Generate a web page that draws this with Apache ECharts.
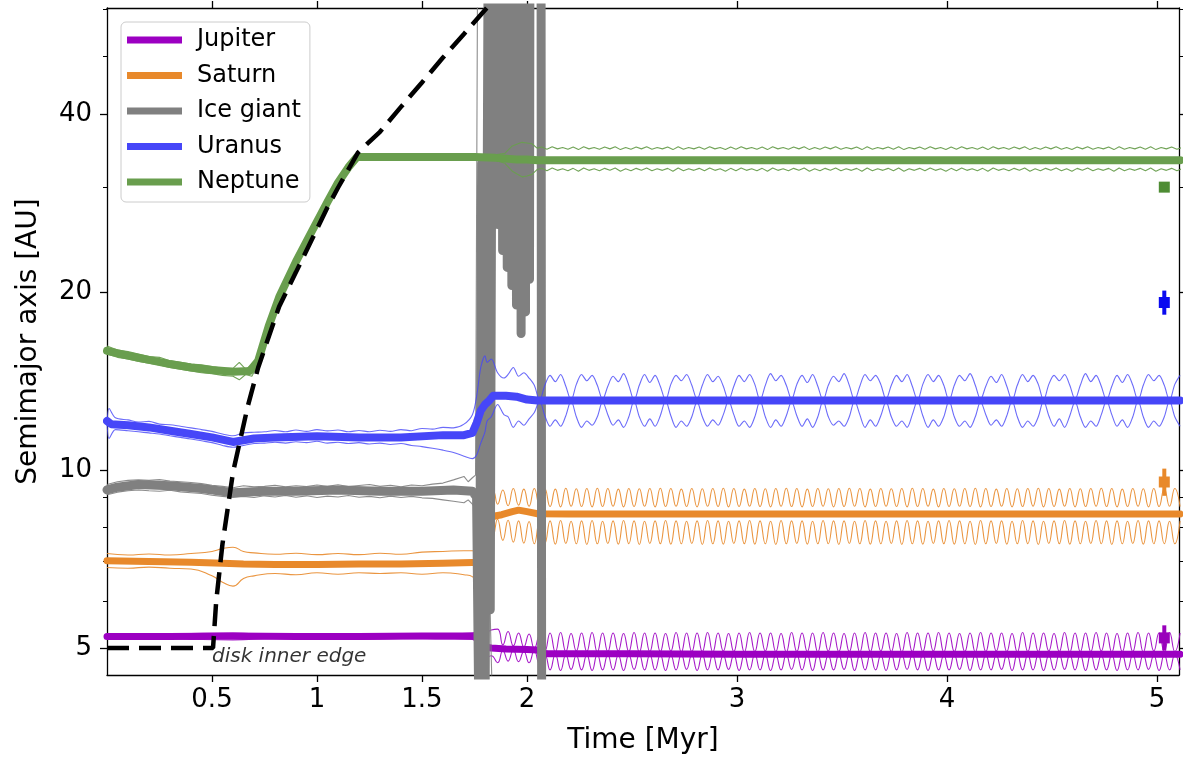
<!DOCTYPE html>
<html><head><meta charset="utf-8">
<script src="https://cdn.jsdelivr.net/npm/echarts@6/dist/echarts.min.js"></script>
<style>html,body{margin:0;padding:0;background:#fff}#c{width:1183px;height:760px}</style>
</head><body><div id="c"></div>
<script>
// ---------- axis definitions ----------
const xTicks = [0.5, 1, 1.5, 2, 3, 4, 5];
const yMajor = [5, 10, 20, 40];
const yMinor = [6, 7, 8, 9, 30, 50, 60];
const xRange = [0, 5.105];
const yRange = [4.5, 60.4];
const legendNames = ['Jupiter', 'Saturn', 'Ice giant', 'Uranus', 'Neptune'];

// ---------- disk inner edge ----------
const diskT = [0, 0.505, 0.52, 0.55, 0.60, 0.67, 0.72, 0.82, 0.9, 0.975, 1.05, 1.10, 1.195, 1.3, 1.4, 1.5, 1.6, 1.7, 1.81];
const diskA = [5, 5, 6.0, 7.5, 9.9, 12.8, 14.9, 18.9, 21.6, 24.5, 27.8, 30, 34.4, 37.3, 41.1, 45.2, 49.8, 54.6, 60.5];
const annT = [0.5];
const annA = [4.83];

// ---------- Jupiter ----------
const jupT = [0, 0.3, 0.6, 0.9, 1.2, 1.5, 1.74, 1.76, 1.78, 1.80, 1.83, 1.9, 2.0, 2.05, 2.07, 2.1, 2.5, 3.0, 3.5, 4.0, 4.5, 5.11];
const jupA = [5.23, 5.23, 5.24, 5.23, 5.23, 5.24, 5.24, 5.2, 5.08, 5.02, 5.0, 4.98, 4.97, 4.96, 4.9, 4.89, 4.89, 4.88, 4.88, 4.88, 4.88, 4.88];
const jupEarlyT = [0, 0.2, 0.4, 0.6, 0.8, 1.0, 1.2, 1.4, 1.6, 1.74, 1.77, 1.80, 1.83];
const jupQEarly = [5.28, 5.27, 5.29, 5.30, 5.27, 5.28, 5.29, 5.27, 5.28, 5.30, 5.35, 5.30, 5.36];
const jupqEarly = [5.18, 5.19, 5.17, 5.16, 5.19, 5.18, 5.17, 5.19, 5.18, 5.17, 5.05, 4.80, 4.85];
const jsOscStart = 1.86, oscStep = 0.025;
const jupQOsc = [5.38,5.06,5.33,5.04,5.30,5.02,5.28,4.99,5.26,
4.93,5.30,4.92,5.31,4.93,5.29,4.94,5.30,4.93,5.31,
4.92,5.30,4.93,5.30,4.94,5.29,4.93,5.31,4.92,5.30,
4.93,5.30,4.93,5.29,4.94,5.31,4.92,5.30,4.93,5.30,
4.93,5.31,4.92,5.30,4.94,5.29,4.93,5.30,4.92,5.31,
4.93,5.30,4.94,5.30,4.93,5.29,4.92,5.31,4.93,5.30,
4.93,5.30,4.92,5.31,4.94,5.30,4.93,5.29,4.93,5.30,
4.92,5.31,4.93,5.30,4.94,5.30,4.93,5.29,4.92,5.31,
4.93,5.30,4.93,5.30,4.94,5.31,4.92,5.30,4.93,5.29,
4.93,5.30,4.92,5.31,4.93,5.30,4.94,5.30,4.93,5.29,
4.92,5.31,4.93,5.30,4.93,5.30,4.94,5.29,4.93,5.31,
4.92,5.30,4.93,5.30,4.93,5.31,4.94,5.30,4.92,5.29,
4.93,5.30,4.93,5.31,4.92,5.30,4.94,5.30,4.93,5.31,
4.93,5.30];
const jupqOsc = [4.72,4.95,4.75,4.96,4.74,4.93,4.72,4.95,4.70,
4.87,4.59,4.88,4.58,4.87,4.60,4.86,4.59,4.87,4.58,
4.88,4.59,4.87,4.59,4.86,4.58,4.87,4.60,4.88,4.59,
4.87,4.59,4.87,4.58,4.86,4.59,4.88,4.60,4.87,4.58,
4.87,4.59,4.88,4.59,4.86,4.60,4.87,4.58,4.87,4.59,
4.88,4.59,4.87,4.58,4.86,4.59,4.87,4.60,4.87,4.59,
4.87,4.58,4.88,4.59,4.86,4.59,4.87,4.60,4.88,4.58,
4.87,4.59,4.87,4.59,4.86,4.58,4.88,4.59,4.87,4.60,
4.87,4.59,4.88,4.58,4.87,4.59,4.86,4.59,4.87,4.60,
4.88,4.58,4.87,4.59,4.87,4.59,4.86,4.60,4.87,4.58,
4.88,4.59,4.87,4.59,4.87,4.58,4.86,4.59,4.88,4.60,
4.87,4.59,4.87,4.58,4.88,4.59,4.86,4.59,4.87,4.58,
4.87,4.59,4.88,4.59,4.87,4.60,4.86,4.58,4.87,4.59,
4.87,4.59];

// ---------- Saturn ----------
const satT = [0, 0.2, 0.4, 0.55, 0.65, 0.8, 1.0, 1.2, 1.4, 1.6, 1.74, 1.77, 1.79, 1.81, 1.84, 1.88, 1.93, 1.96, 2.0, 2.05, 2.2, 2.6, 3, 3.5, 4, 4.5, 5.11];
const satA = [7.02, 7.0, 6.98, 6.95, 6.93, 6.92, 6.92, 6.93, 6.93, 6.95, 6.97, 7.0, 7.6, 8.0, 8.35, 8.4, 8.5, 8.55, 8.5, 8.43, 8.42, 8.42, 8.42, 8.42, 8.42, 8.42, 8.42];
const satEarlyT = [0, 0.1, 0.2, 0.3, 0.4, 0.5, 0.55, 0.6, 0.65, 0.7, 0.8, 0.9, 1.0, 1.1, 1.2, 1.3, 1.4, 1.5, 1.6, 1.7, 1.74, 1.76, 1.78, 1.80, 1.82, 1.84];
const satQEarly = [7.22, 7.18, 7.21, 7.18, 7.22, 7.28, 7.36, 7.40, 7.28, 7.24, 7.2, 7.23, 7.19, 7.22, 7.19, 7.23, 7.2, 7.26, 7.28, 7.3, 7.3, 7.1, 8.0, 8.6, 8.9, 9.2];
const satqEarly = [6.84, 6.82, 6.85, 6.82, 6.8, 6.62, 6.46, 6.36, 6.55, 6.62, 6.68, 6.65, 6.7, 6.66, 6.7, 6.68, 6.7, 6.66, 6.7, 6.65, 6.6, 6.4, 6.9, 7.6, 7.4, 7.7];
const satQOsc = [8.75,9.25,8.70,9.30,8.72,9.28,8.68,9.30,8.70,
9.30,8.67,9.28,8.66,9.31,8.68,9.29,8.67,9.30,8.66,
9.31,8.67,9.30,8.68,9.28,8.66,9.30,8.67,9.29,8.68,
9.30,8.66,9.31,8.67,9.30,8.68,9.28,8.67,9.30,8.66,
9.29,8.68,9.30,8.67,9.31,8.66,9.30,8.67,9.28,8.68,
9.30,8.67,9.29,8.66,9.30,8.68,9.31,8.67,9.30,8.66,
9.28,8.67,9.30,8.68,9.29,8.66,9.30,8.67,9.31,8.68,
9.30,8.66,9.28,8.67,9.30,8.68,9.29,8.67,9.30,8.66,
9.31,8.67,9.30,8.68,9.28,8.66,9.30,8.67,9.29,8.68,
9.30,8.67,9.31,8.66,9.30,8.67,9.28,8.68,9.30,8.66,
9.29,8.67,9.30,8.68,9.31,8.66,9.30,8.67,9.28,8.68,
9.30,8.66,9.29,8.67,9.30,8.68,9.31,8.67,9.30,8.66,
9.28,8.67,9.30,8.68,9.29,8.66,9.30,8.67,9.31,8.68,
9.30,8.67];
const satqOsc = [8.25,7.60,8.22,7.55,8.20,7.52,8.18,7.50,8.20,
7.50,8.20,7.49,8.21,7.51,8.19,7.50,8.20,7.48,8.21,
7.50,8.19,7.51,8.20,7.49,8.21,7.50,8.20,7.48,8.19,
7.51,8.20,7.50,8.21,7.49,8.20,7.50,8.19,7.51,8.20,
7.48,8.21,7.50,8.20,7.49,8.19,7.51,8.20,7.50,8.21,
7.49,8.20,7.50,8.19,7.48,8.21,7.50,8.20,7.51,8.20,
7.49,8.19,7.50,8.21,7.50,8.20,7.48,8.20,7.51,8.19,
7.50,8.21,7.49,8.20,7.50,8.19,7.51,8.20,7.48,8.21,
7.50,8.20,7.49,8.19,7.51,8.20,7.50,8.21,7.49,8.20,
7.50,8.19,7.48,8.21,7.50,8.20,7.51,8.20,7.49,8.19,
7.50,8.21,7.50,8.20,7.48,8.19,7.51,8.20,7.50,8.21,
7.49,8.20,7.50,8.19,7.51,8.21,7.50,8.20,7.48,8.20,
7.50,8.19,7.51,8.21,7.49,8.20,7.50,8.20,7.50,8.19,
7.50,8.20];

// ---------- Ice giant ----------
const iceT = [0, 0.05, 0.15, 0.3, 0.45, 0.6, 0.75, 0.9, 1.1, 1.3, 1.5, 1.65, 1.74, 1.76, 1.772, 1.78, 1.784, 1.79, 1.80, 1.815, 1.825, 1.835,
  1.860, 1.862, 1.864, 1.882, 1.884, 1.886, 1.904, 1.906, 1.908, 1.926, 1.928, 1.930, 1.948, 1.950, 1.952, 1.970, 1.972, 1.974, 1.991, 1.993, 1.995, 2.010, 2.012, 2.014, 2.067, 2.070];
const iceA = [9.25, 9.35, 9.45, 9.4, 9.3, 9.15, 9.2, 9.2, 9.25, 9.2, 9.2, 9.25, 9.2, 9.0, 3.5, 3.5, 33, 3.5, 3.5, 75, 5.8, 75,
  75, 26, 75, 75, 23.5, 75, 75, 22, 75, 75, 20.5, 75, 75, 19, 75, 75, 17, 75, 75, 18.5, 75, 75, 21, 75, 75, 3.5];
const iceQT = [0, 0.05, 0.1, 0.15, 0.2, 0.25, 0.3, 0.35, 0.4, 0.45, 0.5, 0.55, 0.6, 0.65, 0.7, 0.75, 0.8, 0.85, 0.9, 0.95, 1.0, 1.05, 1.1, 1.15, 1.2, 1.25, 1.3, 1.35, 1.4, 1.45, 1.5, 1.55, 1.6, 1.65, 1.7, 1.72, 1.74, 1.755, 1.765];
const iceQA = [9.45, 9.55, 9.6, 9.62, 9.6, 9.63, 9.58, 9.55, 9.52, 9.48, 9.42, 9.38, 9.33, 9.4, 9.36, 9.38, 9.42, 9.36, 9.4, 9.37, 9.43, 9.38, 9.44, 9.37, 9.41, 9.45, 9.38, 9.42, 9.36, 9.43, 9.4, 9.46, 9.5, 9.62, 9.75, 9.55, 9.7, 9.8, 75];
const iceqT = [0, 0.05, 0.1, 0.15, 0.2, 0.25, 0.3, 0.35, 0.4, 0.45, 0.5, 0.55, 0.6, 0.65, 0.7, 0.75, 0.8, 0.85, 0.9, 0.95, 1.0, 1.05, 1.1, 1.15, 1.2, 1.25, 1.3, 1.35, 1.4, 1.45, 1.5, 1.55, 1.6, 1.65, 1.7, 1.72, 1.74, 1.755, 1.765, 1.78, 1.80, 1.803, 1.818, 1.823, 1.83, 1.84];
const iceqA = [9.08, 9.17, 9.22, 9.25, 9.22, 9.2, 9.24, 9.18, 9.15, 9.12, 9.06, 9.02, 8.98, 9.02, 8.98, 9.04, 9.0, 9.05, 8.99, 9.04, 8.98, 9.03, 9.0, 9.05, 8.99, 9.02, 8.97, 9.03, 8.98, 9.02, 8.97, 8.95, 8.9, 8.85, 8.8, 8.9, 8.75, 8.6, 3.5, 3.5, 3.5, 75, 75, 6.1, 4.8, 3.5];

// ---------- Uranus ----------
const uraT = [0, 0.02, 0.1, 0.2, 0.3, 0.4, 0.5, 0.6, 0.7, 0.8, 1.0, 1.2, 1.4, 1.6, 1.7, 1.74, 1.76, 1.78, 1.80, 1.82, 1.84, 1.9, 1.95, 2.0, 2.05, 2.2, 2.6, 3.0, 3.5, 4.0, 4.5, 5.11];
const uraA = [12.1, 11.95, 11.9, 11.8, 11.65, 11.5, 11.35, 11.15, 11.3, 11.35, 11.4, 11.35, 11.35, 11.45, 11.45, 11.55, 12.0, 12.6, 12.9, 13.1, 13.35, 13.35, 13.3, 13.15, 13.1, 13.1, 13.1, 13.1, 13.1, 13.1, 13.1, 13.1];
const uraEarlyT = [0, 0.01, 0.04, 0.1, 0.15, 0.2, 0.25, 0.3, 0.35, 0.4, 0.45, 0.5, 0.55, 0.6, 0.65, 0.7, 0.75, 0.8, 0.85, 0.9, 0.95, 1.0, 1.05, 1.1, 1.15, 1.2, 1.25, 1.3, 1.35, 1.4, 1.45, 1.5, 1.55, 1.6, 1.65, 1.7, 1.74, 1.76, 1.78, 1.80, 1.81, 1.83, 1.86, 1.89];
const uraQEarly = [11.9, 12.7, 12.25, 12.15, 12.05, 12.08, 11.95, 11.92, 11.85, 11.78, 11.7, 11.62, 11.5, 11.42, 11.55, 11.58, 11.6, 11.66, 11.6, 11.68, 11.62, 11.7, 11.64, 11.68, 11.6, 11.66, 11.6, 11.67, 11.62, 11.7, 11.65, 11.75, 11.72, 11.8, 11.78, 11.95, 12.4, 13.3, 14.9, 15.6, 15.2, 15.4, 14.6, 14.3];
const uraqEarly = [12.2, 11.3, 11.7, 11.65, 11.6, 11.55, 11.5, 11.42, 11.35, 11.28, 11.2, 11.12, 11.0, 10.92, 11.0, 11.08, 11.1, 11.14, 11.1, 11.16, 11.12, 11.18, 11.1, 11.14, 11.08, 11.12, 11.06, 11.1, 11.04, 11.08, 11.0, 10.95, 10.88, 10.8, 10.7, 10.55, 10.45, 10.6, 11.1, 11.6, 12.1, 12.3, 12.9, 12.4];
const uraOscStart = 1.91;
const uraQOsc = [14.5,14.9,14.4,14.6,14.3,13.9,
13.1,13.9,14.45,14.1,14.5,13.85,
13.1,13.95,14.5,14.15,14.45,13.9,
13.15,13.85,14.4,14.1,14.55,13.9,
13.1,13.9,14.5,14.05,14.45,13.85,
13.1,13.95,14.45,14.15,14.5,13.9,
13.15,13.9,14.5,14.1,14.4,13.85,
13.1,13.85,14.45,14.1,14.5,13.95,
13.1,13.9,14.55,14.15,14.45,13.9,
13.15,13.95,14.45,14.05,14.5,13.85,
13.1,13.9,14.4,14.1,14.55,13.9,
13.1,13.85,14.5,14.15,14.45,13.95,
13.15,13.9,14.45,14.1,14.5,13.85,
13.1,13.95,14.5,14.1,14.45,13.9,
13.1,13.9,14.45,14.15,14.55,13.9,
13.15,13.85,14.4,14.05,14.5,13.85,
13.1,13.9,14.5,14.1,14.45,13.95,
13.1,13.95,14.45,14.15,14.5,13.9,
13.15,13.9,14.55,14.1,14.45,13.85,
13.1,13.85,14.45,14.05,14.5,13.9,
13.1,13.9,14.5,14.15,14.45,13.9,
13.1,13.95,14.45];
const uraqOsc = [12.3,11.8,12.1,11.9,12.2,12.5,
13.1,12.35,11.85,12.15,11.85,12.35,
13.1,12.3,11.8,12.1,11.9,12.3,
13.05,12.4,11.9,12.15,11.8,12.3,
13.1,12.3,11.85,12.2,11.85,12.35,
13.1,12.35,11.8,12.1,11.85,12.3,
13.05,12.3,11.85,12.15,11.9,12.4,
13.1,12.4,11.85,12.1,11.8,12.3,
13.1,12.3,11.8,12.15,11.85,12.35,
13.05,12.35,11.85,12.2,11.8,12.3,
13.1,12.3,11.9,12.1,11.85,12.3,
13.1,12.4,11.8,12.15,11.85,12.35,
13.05,12.3,11.85,12.1,11.8,12.4,
13.1,12.35,11.8,12.15,11.85,12.3,
13.1,12.3,11.85,12.1,11.8,12.3,
13.05,12.4,11.9,12.15,11.85,12.35,
13.1,12.3,11.8,12.1,11.85,12.3,
13.1,12.35,11.85,12.2,11.8,12.35,
13.05,12.3,11.8,12.1,11.85,12.4,
13.1,12.4,11.85,12.15,11.8,12.3,
13.1,12.3,11.8,12.1,11.85,12.3,
13.1,12.3,11.85];

// ---------- Neptune ----------
const nepT = [0, 0.1, 0.2, 0.3, 0.4, 0.5, 0.6, 0.68, 0.72, 0.77, 0.82, 0.9, 0.975, 1.05, 1.1, 1.15, 1.19, 1.25, 1.5, 1.75, 1.85, 1.9, 1.95, 2.0, 2.05, 2.2, 2.5, 3.0, 3.5, 4.0, 4.5, 5.11];
const nepA = [15.9, 15.6, 15.35, 15.1, 14.9, 14.75, 14.65, 14.7, 15.3, 17.5, 19.6, 22.5, 25.3, 28.4, 30.6, 32.5, 33.8, 33.8, 33.8, 33.8, 33.7, 33.6, 33.5, 33.5, 33.4, 33.4, 33.4, 33.4, 33.4, 33.4, 33.4, 33.4];
const nepEarlyT = [0, 0.05, 0.1, 0.15, 0.2, 0.25, 0.3, 0.35, 0.4, 0.45, 0.5, 0.55, 0.6, 0.63, 0.66, 0.69, 0.72, 0.77, 0.82, 0.9, 0.975, 1.05, 1.1, 1.15, 1.19, 1.3, 1.5, 1.7, 1.8, 1.85, 1.895, 1.93, 1.976, 2.0, 2.024, 2.048];
const nepQEarly = [16.2, 15.95, 15.85, 15.7, 15.55, 15.5, 15.3, 15.2, 15.1, 15.05, 14.95, 14.85, 14.85, 15.2, 14.8, 15.05, 15.5, 17.7, 19.8, 22.7, 25.5, 28.6, 30.8, 32.7, 34.0, 34.05, 34.0, 34.05, 34.0, 34.1, 34.3, 35.3, 35.8, 35.7, 35.6, 35.0];
const nepqEarly = [15.7, 15.5, 15.4, 15.25, 15.15, 15.05, 14.9, 14.8, 14.7, 14.6, 14.55, 14.45, 14.4, 14.2, 14.5, 14.4, 15.1, 17.3, 19.4, 22.3, 25.1, 28.2, 30.4, 32.3, 33.6, 33.6, 33.55, 33.6, 33.6, 33.4, 33.0, 32.0, 31.3, 31.4, 31.6, 32.2];
const nepOscStart = 2.07;
const nepQOsc = [35.15,34.85,35.2,34.9,35.1,34.85,35.15,34.8,35.2,34.9,
35.1,34.85,35.15,34.9,35.2,34.8,35.1,34.85,35.15,34.9,
35.2,34.85,35.1,34.9,35.15,34.8,35.2,34.85,35.1,34.9,
35.15,34.85,35.2,34.9,35.1,34.8,35.15,34.85,35.2,34.9,
35.1,34.85,35.15,34.8,35.2,34.9,35.1,34.85,35.15,34.9,
35.2,34.8,35.1,34.85,35.15,34.9,35.2,34.85,35.1,34.9,
35.15,34.8,35.2,34.85,35.1,34.9,35.15,34.85,35.2,34.8,
35.1,34.9,35.15,34.85,35.2,34.9,35.1,34.8,35.15,34.85,
35.2,34.9,35.1,34.85,35.15,34.8,35.2,34.9,35.1,34.85,
35.15,34.9,35.2,34.8,35.1,34.85,35.15,34.9,35.2,34.85,
35.1,34.8,35.15,34.9,35.2,34.85,35.1,34.9,35.15,34.8,
35.2,34.85,35.1,34.9,35.15,34.85,35.2,34.8,35.1,34.9,
35.15,34.85,35.1];
const nepqOsc = [32.35,32.05,32.4,32.1,32.3,32.05,32.35,32.0,32.4,32.1,
32.3,32.05,32.35,32.1,32.4,32.0,32.3,32.05,32.35,32.1,
32.4,32.05,32.3,32.1,32.35,32.0,32.4,32.05,32.3,32.1,
32.35,32.05,32.4,32.1,32.3,32.0,32.35,32.05,32.4,32.1,
32.3,32.05,32.35,32.0,32.4,32.1,32.3,32.05,32.35,32.1,
32.4,32.0,32.3,32.05,32.35,32.1,32.4,32.05,32.3,32.1,
32.35,32.0,32.4,32.05,32.3,32.1,32.35,32.05,32.4,32.0,
32.3,32.1,32.35,32.05,32.4,32.1,32.3,32.0,32.35,32.05,
32.4,32.1,32.3,32.05,32.35,32.0,32.4,32.1,32.3,32.05,
32.35,32.1,32.4,32.0,32.3,32.05,32.35,32.1,32.4,32.05,
32.3,32.0,32.35,32.1,32.4,32.05,32.3,32.1,32.35,32.0,
32.4,32.05,32.3,32.1,32.35,32.05,32.4,32.0,32.3,32.1,
32.35,32.05,32.3];

// ---------- present-day Solar System (markers) ----------
const realT = [5.035, 5.035, 5.035, 5.035];
const realA = [5.20, 9.54, 19.19, 30.07];
const realLo = [4.95, 9.04, 18.3, 29.8];
const realHi = [5.46, 10.05, 20.1, 30.3];

// ---------- styles ----------
const FONT = 'DejaVu Sans';
const COL = { jup: '#9c00c2', sat: '#e8892b', ice: '#808080', ura: '#4646f8', nep: '#699e4e' };
const MCOL = ['#9900bb', '#e8892b', '#0a0af0', '#4e8c34'];

const L = Math.log10;
const pairs = (ts, as) => ts.map((t, i) => [t, L(as[i])]);
const grid = (start, step, vals) => vals.map((v, i) => [+(start + i * step).toFixed(4), L(v)]);

function thick(name, data, color, width) {
  return { type: 'line', name, data, symbol: 'none', silent: true, clip: true,
    lineStyle: { color, width, cap: 'round', join: 'round' }, itemStyle: { color } };
}
function thin(name, data, color, opacity, smooth) {
  return { type: 'line', name, data, symbol: 'none', silent: true, clip: true, smooth: smooth || false,
    lineStyle: { color, width: 1.1, opacity }, itemStyle: { color } };
}

const series = [
  thin('jupQ', pairs(jupEarlyT, jupQEarly).concat(grid(jsOscStart, oscStep, jupQOsc)), COL.jup, 0.9, 0.5),
  thin('jupq', pairs(jupEarlyT, jupqEarly).concat(grid(jsOscStart, oscStep, jupqOsc)), COL.jup, 0.9, 0.5),
  thick('Jupiter', pairs(jupT, jupA), COL.jup, 7),
  thin('satQ', pairs(satEarlyT, satQEarly).concat(grid(jsOscStart, oscStep, satQOsc)), COL.sat, 0.9, 0.5),
  thin('satq', pairs(satEarlyT, satqEarly).concat(grid(jsOscStart, oscStep, satqOsc)), COL.sat, 0.9, 0.5),
  thick('Saturn', pairs(satT, satA), COL.sat, 7),
  thin('iceQ', pairs(iceQT, iceQA), COL.ice, 0.9, false),
  thin('iceq', pairs(iceqT, iceqA), COL.ice, 0.9, false),
  thick('Ice giant', pairs(iceT, iceA), COL.ice, 9),
  thin('uraQ', pairs(uraEarlyT, uraQEarly).concat(grid(uraOscStart, oscStep, uraQOsc)), COL.ura, 0.8, 0.3),
  thin('uraq', pairs(uraEarlyT, uraqEarly).concat(grid(uraOscStart, oscStep, uraqOsc)), COL.ura, 0.8, 0.3),
  thick('Uranus', pairs(uraT, uraA), COL.ura, 8),
  thin('nepQ', pairs(nepEarlyT, nepQEarly).concat(grid(nepOscStart, oscStep, nepQOsc)), COL.nep, 0.95, false),
  thin('nepq', pairs(nepEarlyT, nepqEarly).concat(grid(nepOscStart, oscStep, nepqOsc)), COL.nep, 0.95, false),
  thick('Neptune', pairs(nepT, nepA), COL.nep, 8),
  { type: 'line', name: 'disk', data: pairs(diskT, diskA), symbol: 'none', silent: true, clip: true,
    lineStyle: { color: '#000', width: 4.5, type: [22, 10], cap: 'butt' } },
  { type: 'scatter', name: 'ann', data: pairs(annT, annA), symbolSize: 0, silent: true,
    label: { show: true, position: 'right', distance: 0, formatter: 'disk inner edge',
      fontFamily: FONT, fontStyle: 'italic', fontSize: 20, color: '#000' } }
];
realT.forEach((t, i) => {
  series.push({ type: 'line', name: 'err' + i, data: pairs([t, t], [realLo[i], realHi[i]]), symbol: 'none', silent: true,
    lineStyle: { color: MCOL[i], width: 4 }, z: 5 });
  series.push({ type: 'scatter', name: 'mk' + i, data: pairs([t], [realA[i]]), symbol: 'rect', symbolSize: 11, silent: true,
    itemStyle: { color: MCOL[i], opacity: 1 }, z: 6 });
});

const axLine = { show: true, lineStyle: { color: '#000', width: 1.3 } };
const tickMajor = (vals) => ({ show: true, inside: false, length: 7, customValues: vals, lineStyle: { color: '#000', width: 1.3 } });
const tickMinor = (vals) => ({ show: true, inside: false, length: 4, customValues: vals, lineStyle: { color: '#000', width: 1 } });
const yMajorL = yMajor.map(L), yMinorL = yMinor.map(L);
const yBase = { type: 'value', min: L(yRange[0]), max: L(yRange[1]), splitLine: { show: false } };
const xBase = { type: 'value', min: xRange[0], max: xRange[1], splitLine: { show: false } };

const option = {
  animation: false,
  backgroundColor: '#fff',
  grid: { left: 107, right: 4, top: 8, bottom: 85, containLabel: false, outerBoundsMode: 'none' },
  legend: {
    data: legendNames, orient: 'vertical', left: 121, top: 22, icon: 'rect',
    itemWidth: 55, itemHeight: 7, itemGap: 11.5, padding: [6, 9, 8, 6],
    backgroundColor: 'rgba(255,255,255,0.85)', borderColor: '#cccccc', borderWidth: 1, borderRadius: 5,
    selectedMode: false,
    textStyle: { fontFamily: FONT, fontSize: 24, color: '#000', padding: [0, 0, 0, 10] }
  },
  xAxis: [
    Object.assign({}, xBase, { position: 'bottom', axisLine: axLine, axisTick: tickMajor(xTicks),
      axisLabel: { customValues: xTicks, formatter: v => String(v), fontFamily: FONT, fontSize: 26, color: '#000', margin: 12 },
      name: 'Time [Myr]', nameLocation: 'middle', nameGap: 52,
      nameTextStyle: { fontFamily: FONT, fontSize: 28, color: '#000' } }),
    Object.assign({}, xBase, { position: 'top', axisLine: axLine, axisTick: tickMajor(xTicks), axisLabel: { show: false } })
  ],
  yAxis: [
    Object.assign({}, yBase, { position: 'left', axisLine: axLine, axisTick: tickMajor(yMajorL),
      axisLabel: { customValues: yMajorL, formatter: v => String(Math.round(Math.pow(10, v))), fontFamily: FONT, fontSize: 26, color: '#000', margin: 15 },
      name: 'Semimajor axis [AU]', nameLocation: 'middle', nameGap: 64, nameRotate: 90,
      nameTextStyle: { fontFamily: FONT, fontSize: 28, color: '#000' } }),
    Object.assign({}, yBase, { position: 'left', axisLine: { show: false }, axisTick: tickMinor(yMinorL), axisLabel: { show: false } }),
    Object.assign({}, yBase, { position: 'right', axisLine: axLine, axisTick: tickMajor(yMajorL), axisLabel: { show: false } }),
    Object.assign({}, yBase, { position: 'right', axisLine: { show: false }, axisTick: tickMinor(yMinorL), axisLabel: { show: false } })
  ],
  series: series
};

const chart = echarts.init(document.getElementById('c'), null, { renderer: 'canvas' });
chart.setOption(option);
</script>
</body></html>
